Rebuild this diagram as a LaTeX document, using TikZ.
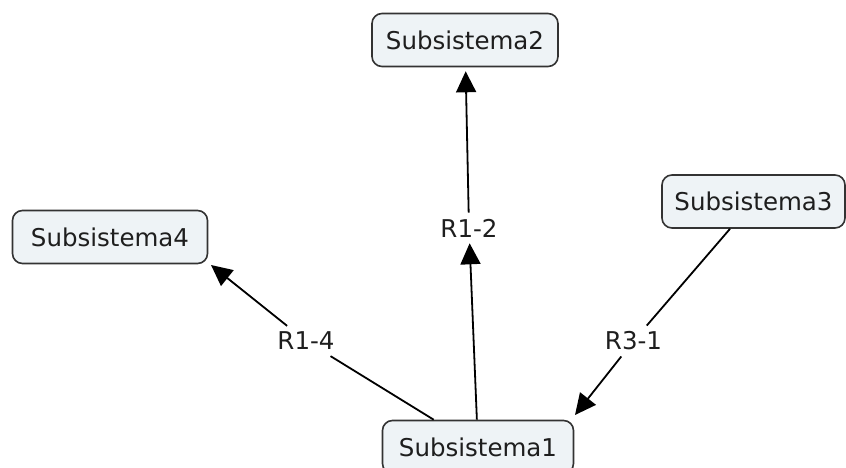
\documentclass[tikz,border=0pt]{standalone}
\usepackage{fontspec}
\setmainfont{DejaVu Sans}
\usetikzlibrary{arrows.meta}
\definecolor{boxfill}{HTML}{EEF3F6}
\definecolor{boxline}{HTML}{333333}
\definecolor{txt}{HTML}{1E1E1E}
\begin{document}
\begin{tikzpicture}[x=1pt,y=-1pt,
  box/.style={draw=boxline, line width=1.6pt, rounded corners=10pt, fill=boxfill,
    minimum height=53pt, inner sep=0pt, font=\fontsize{24.5}{29}\selectfont, text=txt},
  rel/.style={font=\fontsize{24.5}{29}\selectfont, inner sep=6pt, text=txt},
  conn/.style={line width=1.8pt, draw=black},
  arr/.style={conn, -{Triangle[length=21pt,width=20pt]}}]
\useasboundingbox (0,0) rectangle (846,468);
\node[box, minimum width=186pt] (s2) at (465,40) {Subsistema2};
\node[box, minimum width=195pt] (s4) at (110,237) {Subsistema4};
\node[box, minimum width=183pt] (s3) at (753.5,201.5) {Subsistema3};
\node[box, minimum width=191pt] (s1) at (478,447) {Subsistema1};
\node[rel] (r12) at (469,228) {R1-2};
\node[rel] (r14) at (306,341) {R1-4};
\node[rel] (r31) at (633.5,341) {R3-1};
\coordinate (s4end) at (211,265);
\coordinate (s1end) at (575,415);
\draw[arr] (s1) -- (r12);
\draw[arr, shorten >=4pt] (r12) -- (s2);
\draw[conn] (s1) -- (r14);
\draw[arr] (r14) -- (s4end);
\draw[conn] (s3) -- (r31);
\draw[arr] (r31) -- (s1end);
\end{tikzpicture}
\end{document}
